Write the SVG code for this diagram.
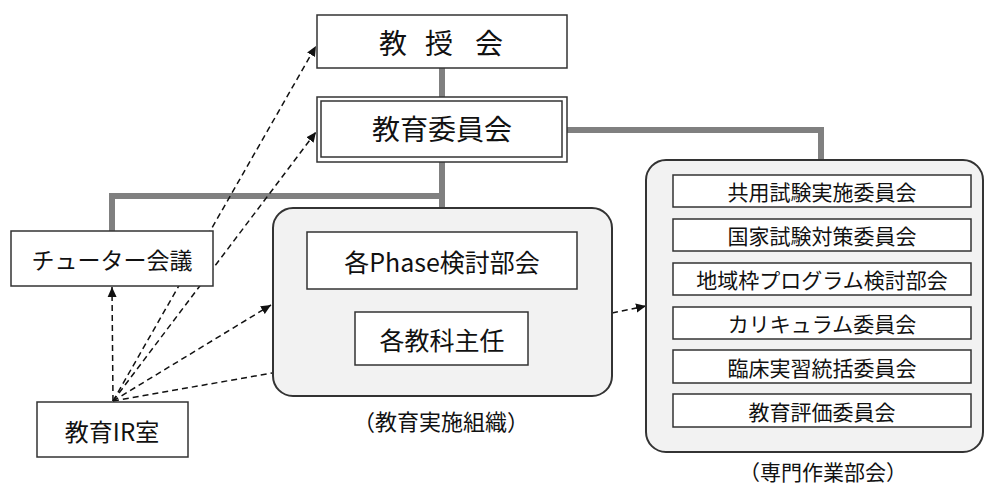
<svg xmlns="http://www.w3.org/2000/svg" width="985" height="486" viewBox="0 0 985 486">
<style>
text{font-family:"Noto Sans CJK JP","Noto Sans",sans-serif;fill:#111;text-anchor:middle;dominant-baseline:central}
.box{fill:#fff;stroke:#333;stroke-width:1.5}
.grp{fill:#f2f2f2;stroke:#333;stroke-width:2}
.conn{fill:none;stroke:#808080;stroke-width:6}
.dash{fill:none;stroke:#111;stroke-width:1.5;stroke-dasharray:6 4}
</style>
<defs>
<marker id="ah" markerUnits="userSpaceOnUse" markerWidth="10" markerHeight="10" viewBox="0 0 10 10" refX="10" refY="5" orient="auto">
<path d="M0,0.5 L10,5 L0,9.5 Z" fill="#111"/>
</marker>
</defs>
<rect width="985" height="486" fill="#fff"/>

<g id="connectors">
<path class="conn" d="M442,68 V97"/>
<path class="conn" d="M442,162 V232"/>
<path class="conn" d="M442,196 H112 V231"/>
<path class="conn" d="M567,130 H821 V161"/>
<path class="conn" d="M442,289 V312"/>
<path class="dash" d="M113,401 L316,46" marker-end="url(#ah)"/>
<path class="dash" d="M113,401 L316,132" marker-end="url(#ah)"/>
<path class="dash" d="M113,401 L112,287" marker-end="url(#ah)"/>
<path class="dash" d="M113,401 L271,305" marker-end="url(#ah)"/>
<path class="dash" d="M113,401 L272,373"/>
<path class="dash" d="M612,313 L646,306" marker-end="url(#ah)"/>
</g>

<g id="kyojukai">
<rect class="box" x="317" y="15" width="250" height="53"/>
<text x="393 415 439 464 489" y="42" font-size="28">教 授 会</text>
</g>

<g id="kyoiku-iinkai">
<rect class="box" x="317" y="97" width="250" height="65"/>
<rect class="box" x="321" y="101" width="241" height="56"/>
<text x="442" y="128" font-size="28">教育委員会</text>
</g>

<g id="tutor">
<rect class="box" x="11" y="231" width="202" height="55"/>
<text x="112" y="259" font-size="23">チューター会議</text>
</g>

<g id="ir">
<rect class="box" x="37" y="402" width="151" height="55"/>
<text x="112" y="430" font-size="24">教育IR室</text>
</g>

<g id="jisshi-soshiki">
<rect class="grp" x="273" y="208" width="339" height="188" rx="20"/>
<text x="441" y="420" font-size="22">（教育実施組織）</text>
</g>

<g id="phase">
<rect class="box" x="307" y="232" width="270" height="57"/>
<text x="442" y="261" font-size="25">各Phase検討部会</text>
</g>

<g id="kyoka">
<rect class="box" x="355" y="312" width="173" height="53"/>
<text x="442" y="339" font-size="25">各教科主任</text>
</g>

<g id="senmon">
<rect class="grp" x="646" y="160" width="337" height="292" rx="20"/>
<text x="823" y="471" font-size="21">（専門作業部会）</text>
</g>

<g id="kyoyo">
<rect class="box" x="673" y="175" width="298" height="32"/>
<text x="822" y="191" font-size="21">共用試験実施委員会</text>
</g>
<g id="kokka">
<rect class="box" x="673" y="219" width="298" height="32"/>
<text x="822" y="235" font-size="21">国家試験対策委員会</text>
</g>
<g id="chiiki">
<rect class="box" x="673" y="263" width="298" height="32"/>
<text x="822" y="279" font-size="21">地域枠プログラム検討部会</text>
</g>
<g id="curriculum">
<rect class="box" x="673" y="307" width="298" height="32"/>
<text x="822" y="323" font-size="21">カリキュラム委員会</text>
</g>
<g id="rinsho">
<rect class="box" x="673" y="350" width="298" height="33"/>
<text x="822" y="367" font-size="21">臨床実習統括委員会</text>
</g>
<g id="hyoka">
<rect class="box" x="673" y="394" width="298" height="33"/>
<text x="822" y="411" font-size="21">教育評価委員会</text>
</g>
</svg>
